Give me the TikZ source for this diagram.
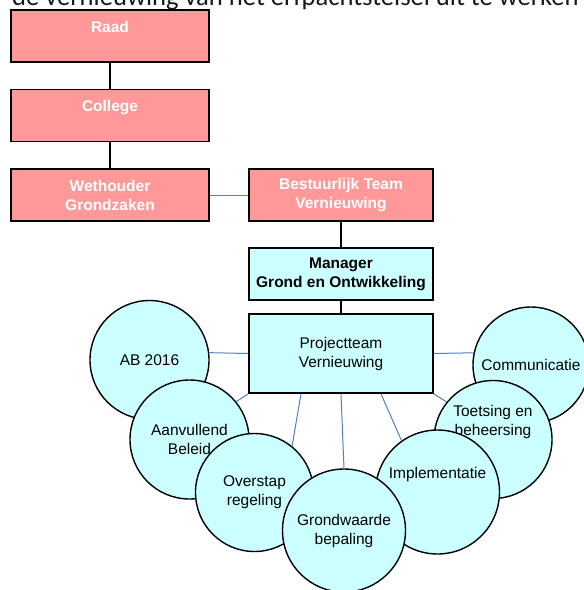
\documentclass[tikz,border=0pt]{standalone}
\usepackage{fontspec}
\setmainfont{Liberation Sans}
\newfontfamily\kopfont{Carlito}
\definecolor{rozebox}{HTML}{FF9999}
\definecolor{cyaanbox}{HTML}{CCFFFF}
\definecolor{lijnblauw}{HTML}{4F81BD}
\begin{document}
\begin{tikzpicture}[x=1pt,y=-1pt,
    bestuur/.style={draw=black,line width=1.8pt,fill=rozebox,text=white,
      font=\bfseries\fontsize{15.5}{19}\selectfont,align=center,
      minimum width=198pt,minimum height=52pt,inner sep=0pt},
    team/.style={draw=black,line width=1.8pt,fill=cyaanbox,
      font=\fontsize{15.5}{19}\selectfont,align=center,
      minimum width=184pt,minimum height=52pt,inner sep=0pt},
    deel/.style={circle,draw=black,line width=1.4pt,fill=cyaanbox,
      font=\fontsize{15.5}{19}\selectfont,align=center,inner sep=0pt},
    lijn/.style={line width=1.4pt},
    link/.style={draw=lijnblauw,line width=1pt}]
    \useasboundingbox (0,0) rectangle (584,590);
    \clip (0,0) rectangle (584,590);
    \node[anchor=base west,inner sep=0pt,font=\kopfont\fontsize{26.6}{30}\selectfont,text=black!90] (kop) at (12,5.5) {de vernieuwing van het erfpachtstelsel uit te werken};
    \node[bestuur] (raad) at (110,36) {Raad\\~};
    \node[bestuur] (college) at (110,115.5) {College\\~};
    \node[bestuur] (wethouder) at (110,195) {Wethouder\\Grondzaken};
    \node[bestuur,minimum width=184pt] (btv) at (341,195) {Bestuurlijk Team\\Vernieuwing};
    \node[team,font=\bfseries\fontsize{15.5}{19}\selectfont] (manager) at (341,274) {Manager\\Grond en Ontwikkeling};
    \node[team,minimum height=79pt] (pt) at (341,353.5) {Projectteam\\Vernieuwing};
    \draw[lijn] (raad) -- (college);
    \draw[lijn] (college) -- (wethouder);
    \draw[lijn] (btv) -- (manager);
    \draw[lijn] (manager) -- (pt);
    \draw[link] (wethouder) -- (btv);
    \node[deel,minimum size=119pt] (ab) at (149.5,360) {AB 2016};
    \node[deel,minimum size=116pt] (comm) at (531,365) {Communicatie};
    \node[deel,minimum size=119pt] (aanv) at (189.5,439.5) {Aanvullend\\Beleid};
    \node[deel,minimum size=118pt] (toets) at (493,439.5) {Toetsing en\\beheersing\\~\\~};
    \node[deel,minimum size=118pt] (ovst) at (254.5,492.5) {Overstap\\regeling};
    \node[deel,minimum size=124pt] (impl) at (437.5,492) {Implementatie\\~\\~};
    \node[deel,minimum size=123pt] (grond) at (344,530.5) {Grondwaarde\\bepaling};
    \draw[link] (pt.west) -- (ab.7);
    \draw[link] (pt.east) -- (comm.168);
    \draw[link] (pt.south west) -- (aanv.39);
    \draw[link] ([xshift=-40pt]pt.south) -- (ovst.51);
    \draw[link] (pt.south) -- (grond.north);
    \draw[link] ([xshift=40pt]pt.south) -- (impl.125);
    \draw[link] (pt.south east) -- (toets.141);
\end{tikzpicture}
\end{document}
